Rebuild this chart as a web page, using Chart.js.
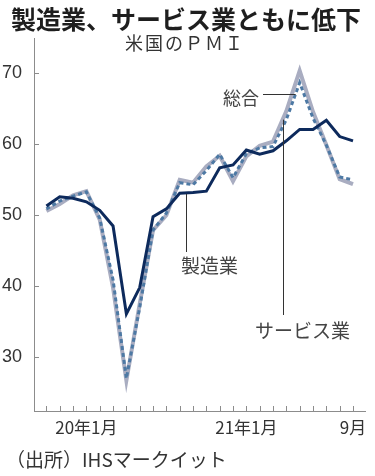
<!DOCTYPE html>
<html>
<head>
<meta charset="utf-8">
<script src="https://cdn.jsdelivr.net/npm/chart.js@4/dist/chart.umd.min.js"></script>
<style>
  html, body { margin: 0; padding: 0; background: #fff; }
  #wrap { position: relative; width: 375px; height: 476px; overflow: hidden; font-family: 'Noto Sans CJK JP', sans-serif; }
  #chartBox { position: absolute; left: 0; top: 0; width: 375px; height: 476px; }
  .txt { position: absolute; line-height: 1; white-space: nowrap; color: #333; }
  #title { left: 11px; top: 6px; font-size: 25px; font-weight: bold; color: #1e1e1e; }
  #sub { left: 125px; top: 33px; font-size: 18px; letter-spacing: 2px; }
  #source { left: 6px; top: 449px; font-size: 19px; }
  .lab { font-size: 19px; color: #444; }
</style>
</head>
<body>
<div id="wrap">
  <div id="chartBox"><canvas id="pmiChart"></canvas></div>
  <div class="txt" id="title">製造業、サービス業ともに低下</div>
  <div class="txt" id="sub">米国のＰＭＩ</div>
  <div class="txt lab" style="left:223px; top:88px; font-size:18px;">総合</div>
  <div class="txt lab" style="left:181px; top:255px;">製造業</div>
  <div class="txt lab" style="left:255px; top:320px;">サービス業</div>
  <div class="txt" id="source">（出所）IHSマークイット</div>
</div>
<script>
// 2019年10月 〜 2021年9月 (月次)
const months = ['19/10','19/11','19/12','20/1','20/2','20/3','20/4','20/5','20/6','20/7','20/8','20/9',
                '20/10','20/11','20/12','21/1','21/2','21/3','21/4','21/5','21/6','21/7','21/8','21/9'];
const manufacturing = [51.3, 52.6, 52.4, 51.9, 50.7, 48.5, 36.1, 39.8, 49.8, 50.9, 53.1, 53.2,
                       53.4, 56.7, 57.1, 59.2, 58.6, 59.1, 60.5, 62.1, 62.1, 63.4, 61.1, 60.5];
const services = [50.6, 51.6, 52.8, 53.4, 49.4, 39.8, 26.7, 37.5, 47.9, 50.0, 55.0, 54.6,
                  56.9, 58.4, 54.8, 58.3, 59.8, 60.4, 64.7, 70.4, 64.6, 59.9, 55.1, 54.4];
const composite = [50.9, 52.0, 52.7, 53.3, 49.6, 40.9, 27.0, 37.0, 47.9, 50.3, 54.6, 54.3,
                   56.3, 58.6, 55.3, 58.7, 59.5, 59.7, 63.5, 68.7, 63.7, 59.9, 55.4, 55.0];
const xLabels = { 3: '20年1月', 15: '21年1月', 23: '9月' };
const yTicks = [30, 40, 50, 60, 70];

const toPoints = arr => arr.map((v, i) => ({ x: i, y: v }));
const axisColor = '#8c8c8c';

// value on a series between two months (for leader lines)
function lerp(arr, t) {
    const i = Math.floor(t), f = t - i;
    return arr[i] + (arr[i + 1] - arr[i]) * f;
}

const decorations = {
    id: 'decorations',
    afterDatasetsDraw(chart) {
        const { ctx, scales: { x, y } } = chart;
        ctx.save();
        // tick marks inside the axes
        ctx.strokeStyle = axisColor;
        ctx.lineWidth = 1;
        ctx.beginPath();
        for (let i = 0; i < months.length; i++) {
            const px = Math.round(x.getPixelForValue(i)) + 0.5;
            ctx.moveTo(px, y.bottom);
            ctx.lineTo(px, y.bottom - 5);
        }
        yTicks.forEach(v => {
            const py = Math.round(y.getPixelForValue(v)) + 0.5;
            ctx.moveTo(x.left, py);
            ctx.lineTo(x.left + 5, py);
        });
        ctx.stroke();

        // leader lines
        ctx.strokeStyle = '#333';
        ctx.beginPath();
        let t = 10.5;
        let px = Math.round(x.getPixelForValue(t)) + 0.5;
        ctx.moveTo(px, y.getPixelForValue(lerp(manufacturing, t)) + 1);
        ctx.lineTo(px, 252);
        t = 17.75;
        px = Math.round(x.getPixelForValue(t)) + 0.5;
        ctx.moveTo(px, y.getPixelForValue(lerp(services, t)) + 1);
        ctx.lineTo(px, 315);
        t = 18.7;
        const py = Math.round(y.getPixelForValue(lerp(composite, t))) + 0.5;
        ctx.moveTo(263, py);
        ctx.lineTo(x.getPixelForValue(t), py);
        ctx.stroke();
        ctx.restore();
    }
};

new Chart(document.getElementById('pmiChart'), {
    type: 'line',
    data: {
        datasets: [
            {
                label: '製造業',
                data: toPoints(manufacturing),
                borderColor: '#0d2a5c',
                borderWidth: 3,
                order: 1
            },
            {
                label: '総合',
                data: toPoints(composite),
                borderColor: '#4d79a4',
                borderWidth: 3,
                borderDash: [4, 3],
                order: 2
            },
            {
                label: 'サービス業',
                data: toPoints(services),
                borderColor: '#a9adc1',
                borderWidth: 4,
                order: 3
            }
        ]
    },
    options: {
        responsive: true,
        maintainAspectRatio: false,
        animation: false,
        layout: { padding: { top: 38, right: 10, left: 0, bottom: 0 } },
        elements: {
            point: { radius: 0 },
            line: { tension: 0, borderCapStyle: 'butt', borderJoinStyle: 'miter' }
        },
        scales: {
            x: {
                type: 'linear',
                min: -0.93,
                max: 23.9,
                afterFit: s => { s.height = 65; },
                grid: { display: false },
                border: { display: true, color: axisColor, width: 1 },
                ticks: {
                    stepSize: 1,
                    includeBounds: false,
                    autoSkip: false,
                    maxRotation: 0,
                    padding: -2,
                    color: '#333',
                    font: { family: "'Noto Sans CJK JP', sans-serif", size: 17 },
                    callback: v => xLabels[v] || ''
                }
            },
            y: {
                min: 22.4,
                max: 75,
                afterFit: s => { s.width = 34; },
                grid: { display: false },
                border: { display: true, color: axisColor, width: 1 },
                ticks: {
                    stepSize: 10,
                    includeBounds: false,
                    padding: 4,
                    color: '#333',
                    font: { family: "'Liberation Sans', sans-serif", size: 18 }
                }
            }
        },
        plugins: {
            legend: { display: false },
            tooltip: { enabled: false }
        }
    },
    plugins: [decorations]
});
</script>
</body>
</html>
